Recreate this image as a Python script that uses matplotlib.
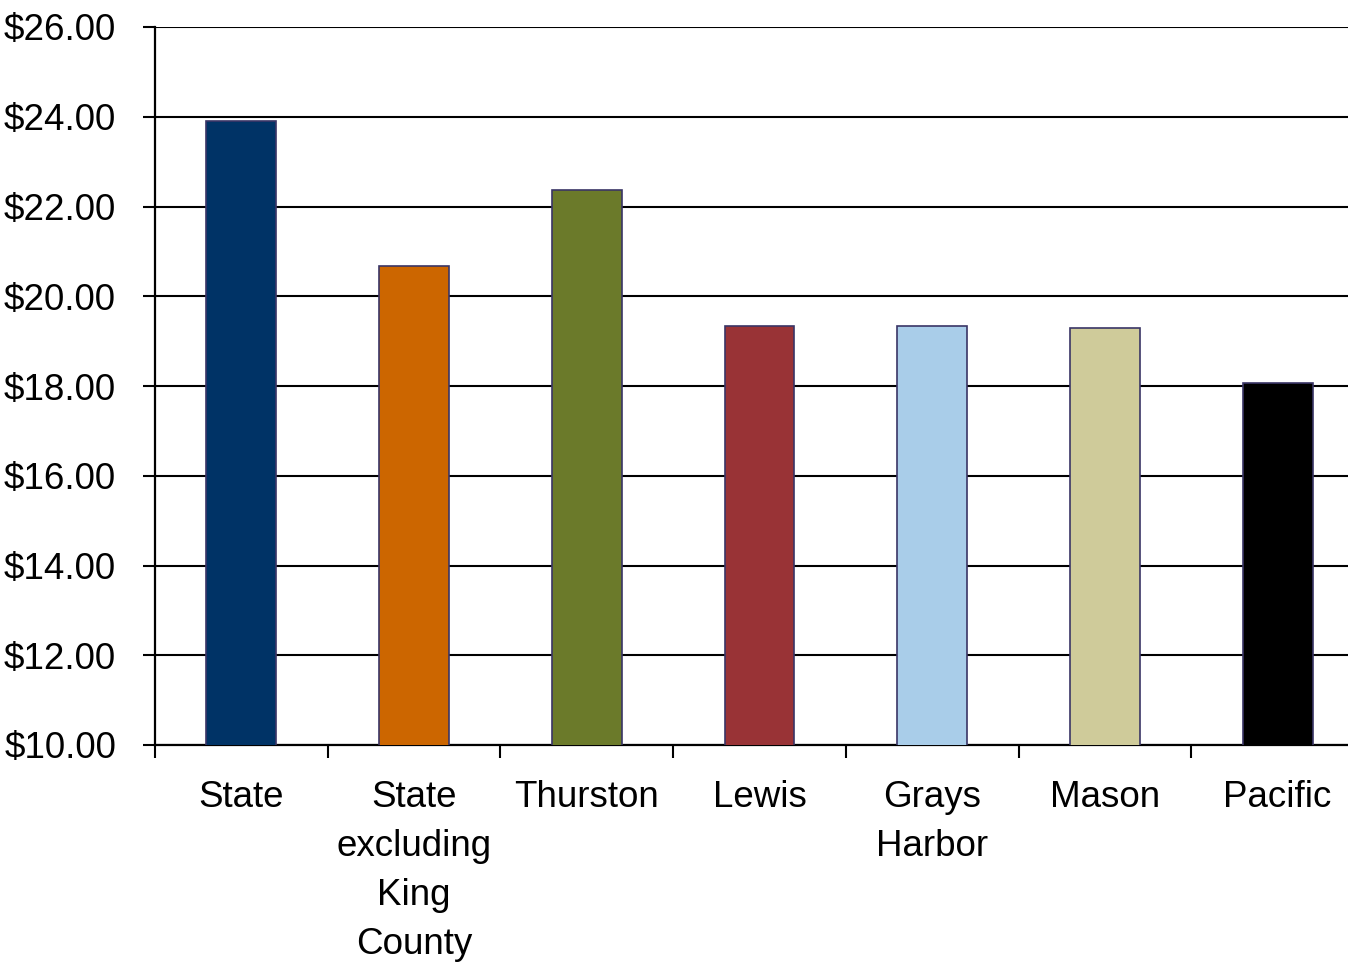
import matplotlib
matplotlib.use("Agg")
import matplotlib.pyplot as plt
import numpy as np
from matplotlib.ticker import FixedLocator

categories = ["State", "State\nexcluding\nKing\nCounty", "Thurston", "Lewis", "Grays\nHarbor", "Mason", "Pacific"]
values = [23.90, 20.67, 22.37, 19.34, 19.34, 19.29, 18.07]
colors = ["#003366", "#CC6600", "#6B7A2A", "#993336", "#A9CDE9", "#CFCB9A", "#000000"]
yticks = [10, 12, 14, 16, 18, 20, 22, 24, 26]

plt.rcParams['font.family'] = ['Liberation Sans Narrow', 'Liberation Sans', 'DejaVu Sans']

W, H = 1348, 964
fig = plt.figure(figsize=(W / 100, H / 100), dpi=100)
left, right, top, bottom = 155, 1364, 27, 745
ax = fig.add_axes([left / W, 1 - bottom / H, (right - left) / W, (bottom - top) / H])

x = np.arange(len(categories))
ax.bar(x, values, width=0.405, color=colors, edgecolor="#3A3566", linewidth=1.2, zorder=3)
ax.set_ylim(10, 26)
ax.set_xlim(-0.5, len(categories) - 0.5)
ax.set_yticks(yticks)
ax.set_yticklabels([f"${v:.2f}" for v in yticks])
ax.yaxis.grid(True, color="black", linewidth=1.5, zorder=0)
ax.set_axisbelow(True)

ax.set_xticks(x)
ax.set_xticklabels(categories, fontsize=26.5, linespacing=1.52, va="top")
ax.xaxis.set_minor_locator(FixedLocator(np.arange(len(categories)) - 0.5))
ax.tick_params(axis="x", which="major", length=0, pad=25)
ax.tick_params(axis="x", which="minor", length=9, width=1.5, color="black")
ax.tick_params(axis="y", length=9, width=1.5, labelsize=26.5, pad=19)

for s in ["top", "right"]:
    ax.spines[s].set_visible(False)
for s in ["left", "bottom"]:
    ax.spines[s].set_linewidth(1.6)
    ax.spines[s].set_color("black")

fig.savefig("out.png", dpi=100)
